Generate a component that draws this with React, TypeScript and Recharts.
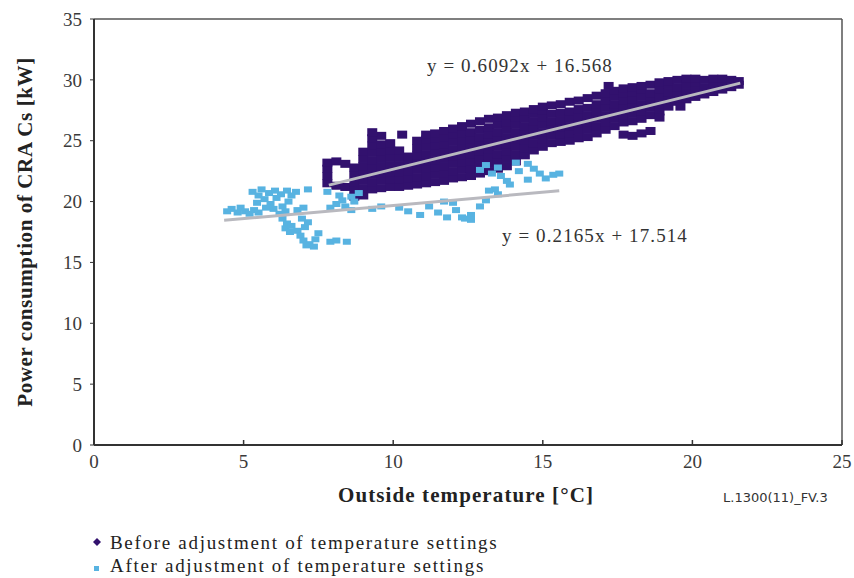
import React from 'react';
import { ScatterChart, Scatter, XAxis, YAxis, ReferenceLine } from 'recharts';

const PURPLE = '#32116e';
const BLUE = '#58b3e1';
const TREND = '#b9b9bf';
const SERIF = '"Liberation Serif", "Times New Roman", serif';

const xTicks = [0, 5, 10, 15, 20, 25];
const yTicks = [0, 5, 10, 15, 20, 25, 30, 35];

// before adjustment: columns of outside temperature with the readings stacked in them
const beforeColumns: [number, number[]][] = [
  [7.8, [21.5, 22.1, 22.7, 23.2]],
  [8.1, [21.3, 23.3]],
  [8.4, [21.2, 23.1]],
  [8.7, [20.4, 21.0, 21.6, 22.2, 22.8]],
  [9.0, [20.5, 21.1, 21.7, 22.3, 22.9, 23.5, 24.1]],
  [9.3, [21.0, 21.6, 22.2, 22.8, 23.4, 24.0, 24.6, 25.2]],
  [9.6, [21.1, 21.7, 22.3, 22.9, 23.5, 24.1, 24.7, 25.4]],
  [9.9, [21.2, 21.8, 22.4, 23.0, 23.6, 24.2, 24.8]],
  [10.2, [21.2, 21.8, 22.4, 23.0, 23.6, 24.2]],
  [10.5, [21.3, 21.9, 22.5, 23.1, 23.7]],
  [10.8, [21.4, 22.0, 22.6, 23.2, 23.8, 24.4, 25.0]],
  [11.1, [21.5, 22.1, 22.7, 23.3, 23.9, 24.5, 25.1, 25.5]],
  [11.4, [21.6, 22.2, 22.8, 23.4, 24.0, 24.6, 25.2, 25.6]],
  [11.7, [21.7, 22.3, 22.9, 23.5, 24.1, 24.7, 25.3, 25.8]],
  [12.0, [21.9, 22.5, 23.1, 23.7, 24.3, 24.9, 25.5, 26.0]],
  [12.3, [22.0, 22.6, 23.2, 23.8, 24.4, 25.0, 25.6, 26.2]],
  [12.6, [22.1, 22.7, 23.3, 23.9, 24.5, 25.1, 25.7, 26.4]],
  [12.9, [22.3, 22.9, 23.5, 24.1, 24.7, 25.3, 25.9, 26.6]],
  [13.2, [22.5, 23.1, 23.7, 24.3, 24.9, 25.5, 26.1, 26.8]],
  [13.5, [22.7, 23.3, 23.9, 24.5, 25.1, 25.7, 26.3, 26.9]],
  [13.8, [22.9, 23.5, 24.1, 24.7, 25.3, 25.9, 26.5, 27.1]],
  [14.1, [23.3, 23.9, 24.5, 25.1, 25.7, 26.3, 26.9, 27.3]],
  [14.4, [23.8, 24.4, 25.0, 25.6, 26.2, 26.8, 27.4]],
  [14.7, [24.2, 24.8, 25.4, 26.0, 26.6, 27.2, 27.6]],
  [15.0, [24.5, 25.1, 25.7, 26.3, 26.9, 27.5, 27.8]],
  [15.3, [24.8, 25.4, 26.0, 26.6, 27.2, 27.9]],
  [15.6, [24.9, 25.5, 26.1, 26.7, 27.3, 28.0]],
  [15.9, [25.0, 25.6, 26.2, 26.8, 27.4, 28.2]],
  [16.2, [25.2, 25.8, 26.4, 27.0, 27.6, 28.3]],
  [16.5, [25.3, 25.9, 26.5, 27.1, 27.7, 28.5]],
  [16.8, [25.6, 26.2, 26.8, 27.4, 28.0, 28.7]],
  [17.1, [25.9, 26.5, 27.1, 27.7, 28.3, 28.9]],
  [17.4, [26.2, 26.8, 27.4, 28.0, 28.6, 29.1]],
  [17.7, [25.5, 26.5, 27.1, 27.7, 28.3, 28.9, 29.3]],
  [18.0, [25.4, 26.6, 27.2, 27.8, 28.4, 29.0, 29.4]],
  [18.3, [25.6, 26.8, 27.4, 28.0, 28.6, 29.2, 29.5]],
  [18.6, [25.8, 27.1, 27.7, 28.3, 28.9, 29.6]],
  [18.9, [27.4, 28.0, 28.6, 29.2, 29.8]],
  [19.2, [27.8, 28.4, 29.0, 29.6, 29.9]],
  [19.5, [28.2, 28.8, 29.4, 30.0]],
  [19.8, [28.4, 29.0, 29.6, 30.1]],
  [20.1, [28.6, 29.2, 29.8, 30.1]],
  [20.4, [28.8, 29.4, 30.0]],
  [20.7, [29.0, 29.6, 30.1]],
  [21.0, [29.2, 29.8, 30.1]],
  [21.3, [29.4, 30.0]],
  [21.55, [29.6, 29.9]],
];
const beforeStray: [number, number][] = [
  [9.3, 25.7], [10.3, 25.5], [17.2, 29.5], [19.6, 27.8], [18.9, 26.9],
];

// after adjustment
const afterPoints: [number, number][] = [
  [4.45, 19.2], [4.6, 19.4], [4.8, 19.1], [4.9, 19.5], [5.05, 19.2], [5.2, 19.0], [5.35, 19.3], [5.5, 19.1],
  [5.3, 20.8], [5.5, 20.5], [5.6, 21.0], [5.7, 20.2], [5.85, 20.7], [5.9, 19.8], [6.05, 20.9], [6.1, 20.3],
  [6.25, 20.6], [6.3, 19.6], [6.45, 20.9], [6.5, 20.0], [6.6, 20.5], [6.75, 20.8], [5.45, 19.9], [5.75, 19.5],
  [6.0, 19.4], [6.2, 19.0], [6.4, 19.2], [6.8, 19.3], [7.0, 19.5],
  [7.15, 21.0], [7.8, 20.8],
  [6.3, 18.6], [6.45, 18.2], [6.4, 17.8], [6.55, 17.5], [6.6, 18.0], [6.8, 17.6], [6.9, 17.2], [7.0, 16.8],
  [7.05, 17.9], [7.15, 18.3], [7.2, 16.5], [7.35, 16.3], [7.4, 16.9], [7.5, 17.4], [7.1, 16.4], [6.95, 18.6],
  [7.9, 16.7], [8.1, 16.8], [8.45, 16.7],
  [7.9, 19.5], [8.1, 19.8], [8.3, 20.1], [8.4, 19.6], [8.6, 20.4], [8.7, 20.0], [8.85, 20.7], [8.6, 19.3], [8.2, 20.5],
  [9.3, 19.4], [9.6, 19.6], [10.2, 19.5], [10.5, 19.2], [10.9, 18.9], [11.2, 19.6], [11.5, 19.1], [11.8, 18.7],
  [12.1, 19.3], [12.4, 18.6], [12.6, 18.9], [12.0, 19.9], [11.7, 20.0], [12.3, 18.7], [12.6, 18.5], [12.9, 19.6],
  [13.1, 20.1],
  [12.9, 22.6], [13.1, 23.0], [13.3, 22.3], [13.5, 22.8], [13.6, 22.1], [13.8, 21.7], [13.9, 21.4], [13.4, 21.0],
  [13.5, 20.6], [13.2, 20.9], [14.1, 23.2], [14.5, 23.1], [14.7, 22.7], [14.9, 22.3], [15.1, 21.9], [15.35, 22.2],
  [15.55, 22.3], [14.5, 21.8], [14.2, 22.5],
];

// trend line end points
const beforeTrend = [{ x: 7.85, y: 21.35 }, { x: 21.6, y: 29.73 }];
const afterTrend = [{ x: 4.35, y: 18.46 }, { x: 15.55, y: 20.88 }];

const beforeData = [
  ...beforeColumns.flatMap(([x, ys]) => ys.map((y) => ({ x, y }))),
  ...beforeStray.map(([x, y]) => ({ x, y })),
];
const afterData = afterPoints.map(([x, y]) => ({ x, y }));

const BeforeDot = (p: any) => <rect x={p.cx - 5} y={p.cy - 4} width={10} height={8} fill={PURPLE} />;
const AfterDot = (p: any) => <rect x={p.cx - 4} y={p.cy - 3} width={8} height={6} fill={BLUE} />;
const NoDot = () => <g />;

const XTick = (p: any) => (
  <g>
    <line x1={p.x} y1={p.y} x2={p.x} y2={p.y - 5} stroke="#333" strokeWidth={1.5} />
    <text x={p.x} y={p.y + 23} textAnchor="middle" fontFamily={SERIF} fontSize={19} fill="#3a3a3a">
      {p.payload.value}
    </text>
  </g>
);

export default function App() {
  return (
    <div style={{ position: 'absolute', left: 0, top: 0, width: 854, height: 578, background: '#fff' }}>
      <ScatterChart width={854} height={578} margin={{ top: 19, right: 12, bottom: 103, left: 34 }}>
        <XAxis
          type="number"
          dataKey="x"
          domain={[0, 25]}
          ticks={xTicks}
          height={30}
          tickSize={0}
          tickMargin={0}
          tick={<XTick />}
          axisLine={{ stroke: '#333', strokeWidth: 2 }}
        />
        <YAxis
          type="number"
          dataKey="y"
          domain={[0, 35]}
          ticks={yTicks}
          width={60}
          tickSize={4}
          tickMargin={8}
          tick={{ fontFamily: SERIF, fontSize: 19, fill: '#3a3a3a' }}
          tickLine={{ stroke: '#333' }}
          axisLine={{ stroke: '#333', strokeWidth: 2 }}
        />
        <ReferenceLine y={35} stroke="#555" strokeWidth={1.5} />
        <ReferenceLine x={25} stroke="#555" strokeWidth={1.5} />
        <Scatter data={beforeData} shape={BeforeDot} isAnimationActive={false} />
        <Scatter data={afterData} shape={AfterDot} isAnimationActive={false} />
        <Scatter data={beforeTrend} shape={NoDot} line={{ stroke: TREND, strokeWidth: 3 }} isAnimationActive={false} />
        <Scatter data={afterTrend} shape={NoDot} line={{ stroke: TREND, strokeWidth: 3 }} isAnimationActive={false} />
      </ScatterChart>
      <svg width={854} height={578} style={{ position: 'absolute', left: 0, top: 0, pointerEvents: 'none' }}>
        <text x={427} y={72} fontFamily={SERIF} fontSize={19} letterSpacing={1.1} fill="#333">y = 0.6092x + 16.568</text>
        <text x={502} y={242} fontFamily={SERIF} fontSize={19} letterSpacing={1.1} fill="#333">y = 0.2165x + 17.514</text>
        <text x={466} y={502} textAnchor="middle" fontFamily={SERIF} fontSize={21} fontWeight="bold" letterSpacing={1.1} fill="#222">
          Outside temperature [°C]
        </text>
        <text
          transform="translate(32,232) rotate(-90)"
          textAnchor="middle"
          fontFamily={SERIF}
          fontSize={21}
          fontWeight="bold"
          letterSpacing={0.6}
          fill="#222"
        >
          Power consumption of CRA Cs [kW]
        </text>
        <text x={723} y={502} fontFamily='"DejaVu Sans", sans-serif' fontSize={13} fill="#333">L.1300(11)_FV.3</text>
        <path d="M97,538 L101,542 L97,546 L93,542 Z" fill={PURPLE} />
        <text x={110} y={549} fontFamily={SERIF} fontSize={19} letterSpacing={1.7} fill="#222">Before adjustment of temperature settings</text>
        <rect x={94} y={566} width={5} height={5} fill={BLUE} />
        <text x={110} y={572} fontFamily={SERIF} fontSize={19} letterSpacing={1.7} fill="#222">After adjustment of temperature settings</text>
      </svg>
    </div>
  );
}
